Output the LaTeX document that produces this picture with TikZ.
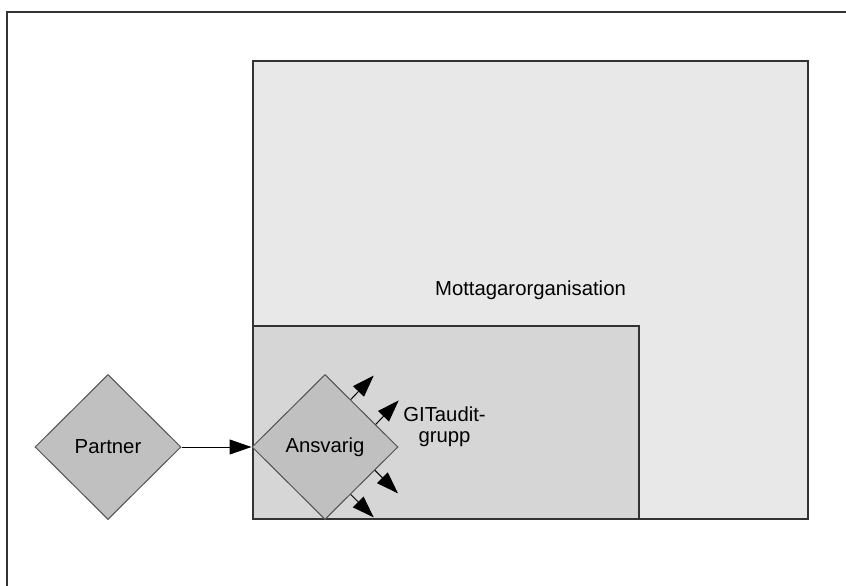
\documentclass[tikz,border=0pt]{standalone}
\usepackage{fontspec}
\setmainfont{Liberation Sans}
\usetikzlibrary{shapes.geometric,arrows.meta,calc}
\definecolor{orgfill}{HTML}{E8E8E8}
\definecolor{groupfill}{HTML}{D6D6D6}
\definecolor{rolefill}{HTML}{C0C0C0}
\definecolor{edgegray}{HTML}{333333}
\begin{document}
\begin{tikzpicture}[x=1pt,y=-1pt,
  every node/.style={font=\fontsize{20.3}{21}\selectfont},
  orgbox/.style={draw=edgegray,line width=1.3pt,rectangle,inner sep=0pt,align=center},
  role/.style={draw=edgegray!85,line width=1pt,fill=rolefill,diamond,aspect=1,
    minimum width=146pt,minimum height=145pt,inner sep=0pt},
  flow/.style={line width=1pt,-{Triangle[length=22pt,width=15pt]}}]
  \useasboundingbox (0,0) rectangle (846,586);
  % page frame (top and left edges only)
  \draw[edgegray,line width=1.5pt] (846,12) -- (7,12) -- (7,586);
  % organisations
  \node[orgbox,fill=orgfill,minimum width=555pt,minimum height=458pt] (org) at (530.5,290) {Mottagarorganisation};
  \node[orgbox,fill=groupfill,minimum width=386pt,minimum height=193pt] (grp) at (446,422.5) {};
  \node (grplabel) at (444.5,427) [align=center] {GITaudit-\\grupp};
  % roles
  \node[role] (partner) at (108,447) {Partner};
  \node[role] (ansvarig) at (325,447) {Ansvarig};
  \draw[flow] (partner.east) -- (ansvarig.west);
  % outgoing arrows of Ansvarig
  \coordinate (s1) at ($(ansvarig.north)!0.35!(ansvarig.east)$);
  \coordinate (s2) at ($(ansvarig.north)!0.69!(ansvarig.east)$);
  \coordinate (s3) at ($(ansvarig.east)!0.32!(ansvarig.south)$);
  \coordinate (s4) at ($(ansvarig.east)!0.65!(ansvarig.south)$);
  \coordinate (e1) at ($(s1)+(23,-24)$);
  \coordinate (e2) at ($(s2)+(23,-24)$);
  \coordinate (e3) at ($(s3)+(23,23)$);
  \coordinate (e4) at ($(s4)+(23,23)$);
  \foreach \i in {1,...,4} \draw[flow] (s\i) -- (e\i);
\end{tikzpicture}
\end{document}
